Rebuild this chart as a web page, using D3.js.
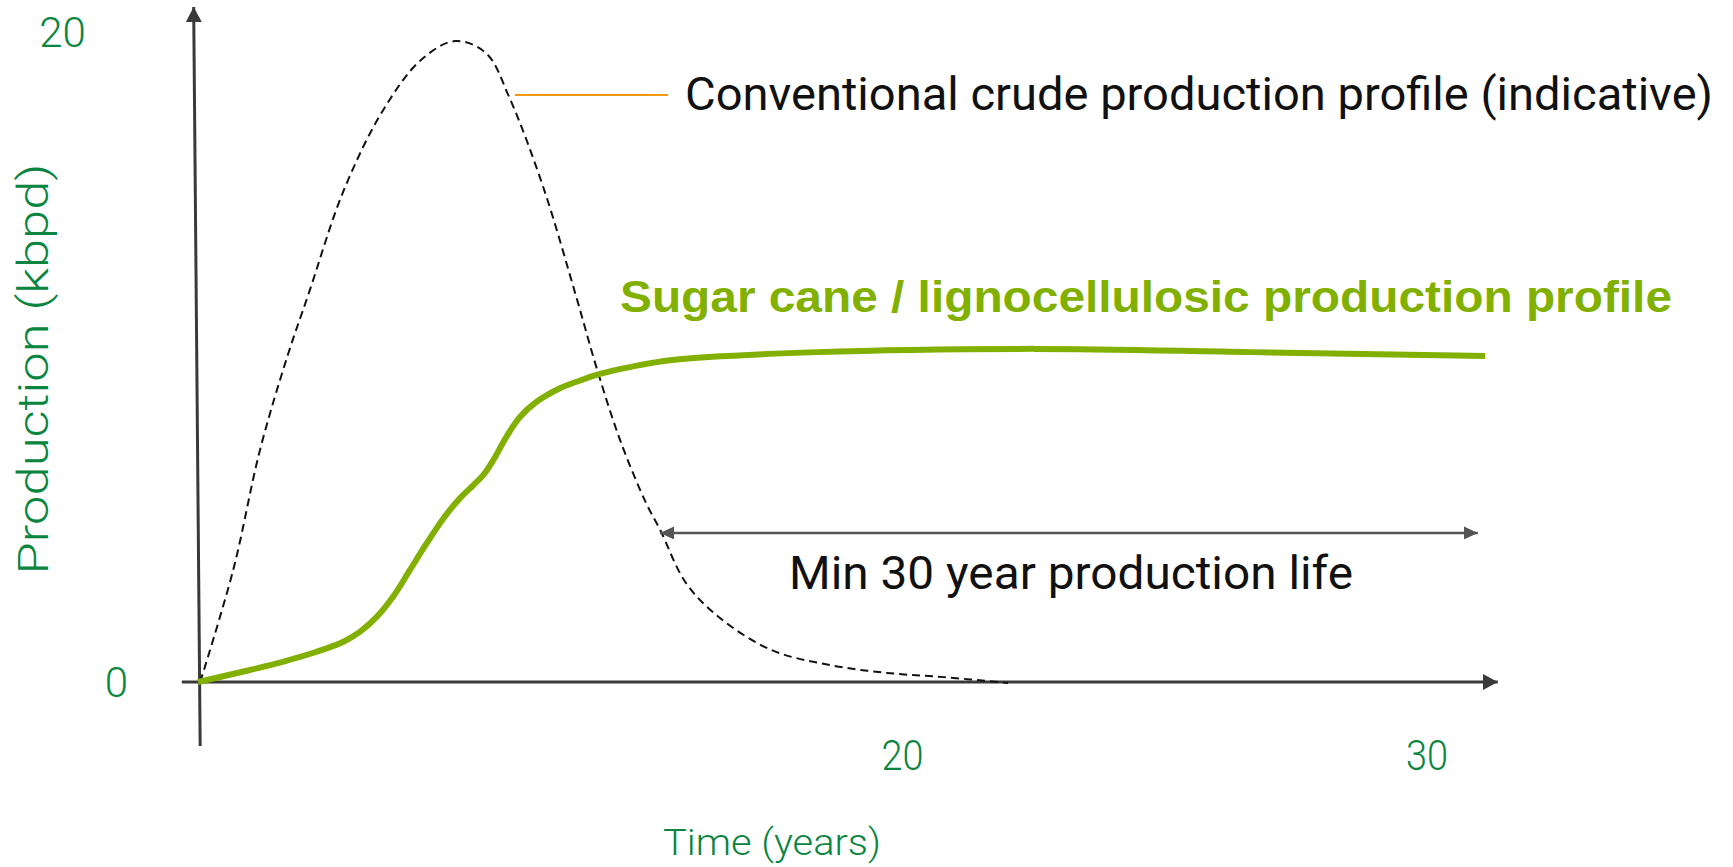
<!DOCTYPE html>
<html>
<head>
<meta charset="utf-8">
<script src="https://cdn.jsdelivr.net/npm/d3@7"></script>
<style>
  html, body { margin: 0; padding: 0; background: #fff; }
  svg { display: block; }
</style>
</head>
<body>
<svg id="chart" width="1733" height="867"></svg>
<script>
// ---- data ----
const xTicks = [20, 30];
const yTicks = [0, 20];

// Conventional crude production profile (indicative) – time (years), production (kbpd)
const crudeTime = [6.61, 7.24, 7.75, 8.28, 8.67, 9.35, 10.10, 10.82, 11.47, 12.06, 12.50, 13.15, 13.78, 14.18, 14.63, 15.11, 15.38, 15.87, 16.52, 17.51, 18.62, 19.70, 20.79, 22.01];
const crudeProd = [0.00, 3.45, 7.14, 10.06, 11.91, 15.14, 17.60, 19.14, 19.72, 19.35, 18.00, 15.23, 11.85, 9.60, 7.38, 5.51, 4.68, 3.05, 1.97, 0.98, 0.52, 0.28, 0.15, -0.03];

// Sugar cane / lignocellulosic production profile
const caneTime = [6.57, 7.56, 8.20, 8.83, 9.34, 9.66, 9.98, 10.29, 10.61, 10.93, 11.25, 11.56, 11.82, 12.01, 12.20, 12.45, 12.71, 13.03, 13.47, 13.91, 14.23, 14.80, 15.61, 18.37, 22.51, 26.63, 31.11];
const caneProd = [0.00, 0.37, 0.63, 0.93, 1.24, 1.55, 2.01, 2.63, 3.45, 4.27, 5.04, 5.65, 6.06, 6.37, 6.83, 7.55, 8.16, 8.63, 9.04, 9.31, 9.48, 9.69, 9.91, 10.15, 10.25, 10.15, 10.03];

const labels = {
  crude: "Conventional crude production profile (indicative)",
  cane: "Sugar cane / lignocellulosic production profile",
  life: "Min 30 year production life",
  xTitle: "Time (years)",
  yTitle: "Production (kbpd)"
};

// ---- scales ----
const svg = d3.select("#chart");
const x = d3.scaleLinear().domain([20, 30]).range([902.5, 1427]);
const y = d3.scaleLinear().domain([0, 20]).range([682, 32]);

const axisColor = "#3a3a3a";
const green = "#82b000";
const labelGreen = "#0a8540";

const defs = svg.append("defs");
function arrowMarker(id, color, w, l) {
  defs.append("marker")
    .attr("id", id)
    .attr("markerUnits", "userSpaceOnUse")
    .attr("viewBox", `0 ${-w / 2} ${l} ${w}`)
    .attr("refX", l).attr("refY", 0)
    .attr("markerWidth", l).attr("markerHeight", w)
    .attr("orient", "auto-start-reverse")
    .append("path")
    .attr("d", `M0,${-w / 2}L${l},0L0,${w / 2}Z`)
    .attr("fill", color);
}
arrowMarker("axArrow", axisColor, 16, 15);
arrowMarker("lifeArrow", "#555", 13, 14);

const t0 = 6.6; // origin of the drawing on the time scale
const line = d3.line().x(d => d[0]).y(d => d[1]);

// x axis
svg.append("path")
  .attr("d", line([[x(6.26), y(0)], [x(31.35), y(0)]]))
  .attr("stroke", axisColor).attr("stroke-width", 3).attr("fill", "none")
  .attr("marker-end", "url(#axArrow)");

// y axis (slightly slanted as in the reference)
svg.append("path")
  .attr("d", line([[x(t0) + 0.5, y(-1.97)], [x(t0) - 6, y(20.77)]]))
  .attr("stroke", axisColor).attr("stroke-width", 3).attr("fill", "none")
  .attr("marker-end", "url(#axArrow)");

// curves
const curveGen = d3.line()
  .x(d => x(d[0])).y(d => y(d[1]))
  .curve(d3.curveCatmullRom.alpha(0.5));

svg.append("path")
  .datum(crudeTime.map((t, i) => [t, crudeProd[i]]))
  .attr("d", curveGen)
  .attr("fill", "none")
  .attr("stroke", "#111")
  .attr("stroke-width", 2)
  .attr("stroke-dasharray", "8,5");

svg.append("path")
  .datum(caneTime.map((t, i) => [t, caneProd[i]]))
  .attr("d", curveGen)
  .attr("fill", "none")
  .attr("stroke", green)
  .attr("stroke-width", 6)
  .attr("stroke-linecap", "butt");

// orange leader line
svg.append("path")
  .attr("d", line([[x(12.61), y(18.06)], [x(15.53), y(18.06)]]))
  .attr("stroke", "#f39a12").attr("stroke-width", 2).attr("fill", "none");

// production life double arrow
svg.append("path")
  .attr("d", line([[x(15.377), y(4.585)], [x(30.97), y(4.585)]]))
  .attr("stroke", "#555").attr("stroke-width", 2.5).attr("fill", "none")
  .attr("marker-start", "url(#lifeArrow)")
  .attr("marker-end", "url(#lifeArrow)");

// ---- texts ----
const font = "Roboto, 'Liberation Sans', Arial, sans-serif";

svg.append("text")
  .attr("x", 685).attr("y", 110)
  .attr("font-family", font).attr("font-size", 46)
  .attr("fill", "#111")
  .attr("textLength", 1028).attr("lengthAdjust", "spacingAndGlyphs")
  .text(labels.crude);

svg.append("text")
  .attr("x", 620).attr("y", 312)
  .attr("font-family", "'Liberation Sans', Arial, sans-serif")
  .attr("font-weight", "bold").attr("font-size", 44)
  .attr("fill", green)
  .attr("textLength", 1052).attr("lengthAdjust", "spacingAndGlyphs")
  .text(labels.cane);

svg.append("text")
  .attr("x", 789).attr("y", 589)
  .attr("font-family", font).attr("font-size", 47)
  .attr("fill", "#111")
  .attr("textLength", 564).attr("lengthAdjust", "spacingAndGlyphs")
  .text(labels.life);

svg.append("text")
  .attr("x", 663).attr("y", 855)
  .attr("font-family", font).attr("font-weight", 300).attr("font-size", 37)
  .attr("fill", labelGreen)
  .attr("textLength", 218).attr("lengthAdjust", "spacingAndGlyphs")
  .text(labels.xTitle);

svg.append("text")
  .attr("transform", "translate(48,369) rotate(-90)")
  .attr("text-anchor", "middle")
  .attr("font-family", font).attr("font-weight", 300).attr("font-size", 42)
  .attr("fill", labelGreen)
  .attr("textLength", 411).attr("lengthAdjust", "spacingAndGlyphs")
  .text(labels.yTitle);

// x tick labels
svg.selectAll("text.xtick").data(xTicks).enter().append("text")
  .attr("class", "xtick")
  .attr("x", d => x(d)).attr("y", 770)
  .attr("text-anchor", "middle")
  .attr("font-family", font).attr("font-weight", 300).attr("font-size", 42)
  .attr("fill", labelGreen)
  .attr("textLength", 42).attr("lengthAdjust", "spacingAndGlyphs")
  .text(d => d);

// y tick labels (the reference does not align them)
const yLabelCenter = v => (v === 0 ? 116.5 : 62.5);
svg.selectAll("text.ytick").data(yTicks).enter().append("text")
  .attr("class", "ytick")
  .attr("x", d => yLabelCenter(d)).attr("y", d => y(d) + 15)
  .attr("text-anchor", "middle")
  .attr("font-family", font).attr("font-weight", 300).attr("font-size", 42)
  .attr("fill", labelGreen)
  .text(d => d);
</script>
</body>
</html>
